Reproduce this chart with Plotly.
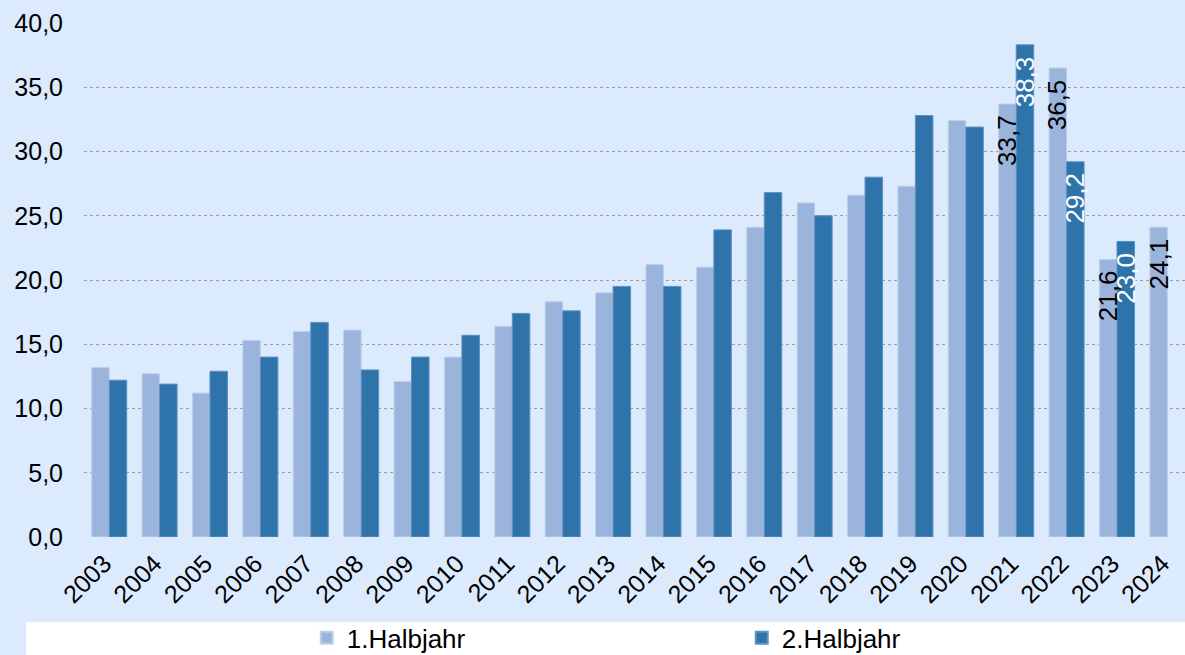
import plotly.graph_objects as go

years = [str(y) for y in range(2003, 2025)]
h1 = [13.2, 12.7, 11.2, 15.3, 16.0, 16.1, 12.1, 14.0, 16.4, 18.3, 19.0, 21.2,
      21.0, 24.1, 26.0, 26.6, 27.3, 32.4, 33.7, 36.5, 21.6, 24.1]
h2 = [12.2, 11.9, 12.9, 14.0, 16.7, 13.0, 14.0, 15.7, 17.4, 17.6, 19.5, 19.5,
      23.9, 26.8, 25.0, 28.0, 32.8, 31.9, 38.3, 29.2, 23.0, None]
labeled_years = ["2021", "2022", "2023", "2024"]

def fmt(v):
    return f"{v:.1f}".replace(".", ",")

BG = "#DCEAFD"
FONT = "Liberation Sans, Arial, sans-serif"

fig = go.Figure()
fig.add_trace(go.Bar(
    name="1.Halbjahr", x=years, y=h1,
    marker=dict(color="#9BB4DB", line=dict(color="#BCD0EC", width=1)),
    hoverinfo="skip",
))
fig.add_trace(go.Bar(
    name="2.Halbjahr", x=years, y=h2,
    marker=dict(color="#2E73AA", line=dict(color="#5C91C4", width=1)),
    hoverinfo="skip",
))

# value labels (inside bars, near the top, rotated)
annotations = []
for series, shift, col in ((h1, -8.75, "black"), (h2, 8.75, "white")):
    for i, (y, v) in enumerate(zip(years, series)):
        if y in labeled_years and v is not None:
            annotations.append(dict(
                x=i, y=v, xref="x", yref="y", text=fmt(v), showarrow=False,
                textangle=-90, xanchor="center", yanchor="top",
                xshift=shift, yshift=-9,
                font=dict(size=26, color=col, family=FONT),
            ))

fig.update_layout(
    width=1185, height=655,
    margin=dict(l=84, r=0, t=23, b=118, autoexpand=False),
    paper_bgcolor=BG, plot_bgcolor=BG,
    font=dict(family=FONT, size=25, color="black"),
    barmode="group", bargap=0.305, bargroupgap=0,
    separators=", ",
    showlegend=True,
    legend=dict(orientation="h", x=0.2023, xanchor="left", y=-0.196, yanchor="middle",
                bgcolor="rgba(0,0,0,0)", entrywidth=390, entrywidthmode="pixels",
                font=dict(size=26, family=FONT), itemsizing="constant",
                traceorder="normal"),
    shapes=[dict(type="rect", xref="paper", yref="paper",
                 x0=-0.0527, x1=1.01, y0=-0.25, y1=-0.1654,
                 fillcolor="white", line=dict(width=0), layer="below")],
    annotations=annotations,
)
fig.update_xaxes(
    type="category", range=[-0.5, 21.35], automargin=False,
    tickangle=-45, showgrid=False, ticks="", showline=False,
    tickfont=dict(size=25, family=FONT), ticklabelstandoff=6, ticklabelshift=-5,
)
fig.update_yaxes(
    range=[0, 40], dtick=5, tickformat=".1f", automargin=False,
    showgrid=True, gridcolor="#9E9E9E", griddash="dot", gridwidth=1,
    zeroline=False, showline=False, ticks="",
    tickfont=dict(size=25, family=FONT), ticklabelstandoff=20,
)

fig.write_html(
    "out.html",
    config={"displayModeBar": False},
    post_script="document.body.style.margin='0';document.body.style.background='%s';" % BG,
)
